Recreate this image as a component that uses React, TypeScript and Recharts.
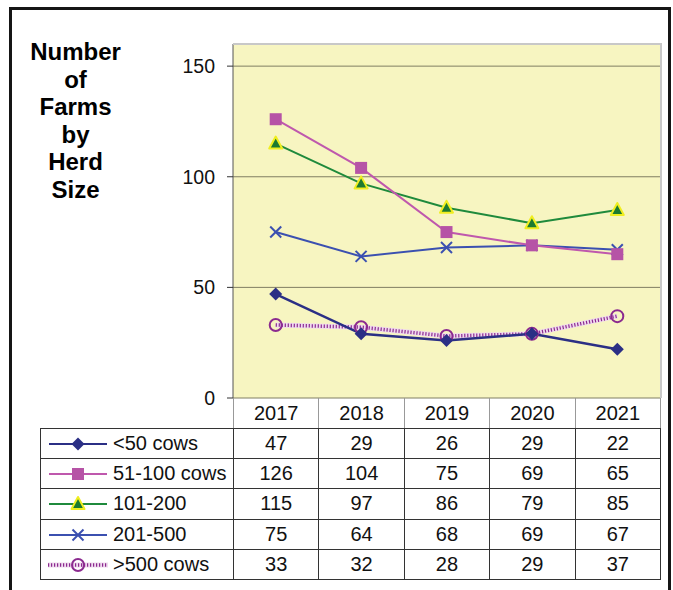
import React from 'react'
import { LineChart, Line, XAxis, YAxis, CartesianGrid } from 'recharts'

const years = ['2017', '2018', '2019', '2020', '2021']
const seriesNames = ['<50 cows', '51-100 cows', '101-200', '201-500', '>500 cows']
const under50 = [47, 29, 26, 29, 22]
const from51to100 = [126, 104, 75, 69, 65]
const from101to200 = [115, 97, 86, 79, 85]
const from201to500 = [75, 64, 68, 69, 67]
const over500 = [33, 32, 28, 29, 37]
const yTicks = [0, 50, 100, 150]
const titleLines = ['Number', 'of', 'Farms', 'by', 'Herd', 'Size']

const seriesValues = [under50, from51to100, from101to200, from201to500, over500]
const data = years.map((year, i) => ({
  year,
  s0: under50[i],
  s1: from51to100[i],
  s2: from101to200[i],
  s3: from201to500[i],
  s4: over500[i],
}))

const FONT = '"Liberation Sans", Arial, Helvetica, sans-serif'
const PLOT_LEFT = 233
const PLOT_RIGHT = 660
const PLOT_TOP = 44
const PLOT_BOTTOM = 398
const CHART_H = 420
const COL_W = (PLOT_RIGHT - PLOT_LEFT) / years.length
const ROW_H = 30.2
const TABLE_LEFT = 40

const NAVY = '#2b2f85'
const PINK = '#bf58ad'
const GREEN = '#1f8a3c'
const BLUE = '#3b50b0'
const PURPLE = '#8b2a8f'

type MarkProps = { cx?: number; cy?: number }

function Diamond({ cx = 0, cy = 0 }: MarkProps) {
  return <path d={`M${cx} ${cy - 6.5}L${cx + 6.5} ${cy}L${cx} ${cy + 6.5}L${cx - 6.5} ${cy}Z`} fill={NAVY} />
}
function Square({ cx = 0, cy = 0 }: MarkProps) {
  return <rect x={cx - 6} y={cy - 6} width={12} height={12} fill="#b653a6" />
}
function Triangle({ cx = 0, cy = 0 }: MarkProps) {
  return (
    <path
      d={`M${cx} ${cy - 7}L${cx + 6.5} ${cy + 5}L${cx - 6.5} ${cy + 5}Z`}
      fill="#1c7a30"
      stroke="#f0ee20"
      strokeWidth={2}
      strokeLinejoin="round"
    />
  )
}
function Cross({ cx = 0, cy = 0 }: MarkProps) {
  return (
    <g stroke={BLUE} strokeWidth={2}>
      <line x1={cx - 5.5} y1={cy - 5.5} x2={cx + 5.5} y2={cy + 5.5} />
      <line x1={cx - 5.5} y1={cy + 5.5} x2={cx + 5.5} y2={cy - 5.5} />
    </g>
  )
}
function Ring({ cx = 0, cy = 0 }: MarkProps) {
  return <circle cx={cx} cy={cy} r={6} fill="none" stroke={PURPLE} strokeWidth={2} />
}

const markers = [Diamond, Square, Triangle, Cross, Ring]
const lineColors = [NAVY, PINK, GREEN, BLUE, PURPLE]

function dotOf(Mark: (p: MarkProps) => React.ReactElement) {
  return (p: any) => <Mark key={`m-${p.index}`} cx={p.cx} cy={p.cy} />
}

function LegendIcon({ index }: { index: number }) {
  const Mark = markers[index]
  const dotted = index === 4
  return (
    <svg width={64} height={20} style={{ position: 'absolute', left: 5, top: 5 }}>
      {dotted ? (
        <>
          <line x1={2} y1={10} x2={62} y2={10} stroke="#efd9ee" strokeWidth={5} />
          <line x1={2} y1={10} x2={62} y2={10} stroke={PURPLE} strokeWidth={3.5} strokeDasharray="1.2 1.8" />
        </>
      ) : (
        <line x1={3} y1={10} x2={61} y2={10} stroke={lineColors[index]} strokeWidth={2} />
      )}
      <Mark cx={32} cy={10} />
    </svg>
  )
}

const cellText: React.CSSProperties = {
  position: 'absolute',
  boxSizing: 'border-box',
  display: 'flex',
  alignItems: 'center',
  justifyContent: 'center',
  fontSize: 20,
  color: '#111',
}

export default function App() {
  return (
    <div
      style={{
        position: 'absolute',
        left: 0,
        top: 0,
        width: 673,
        height: 590,
        overflow: 'hidden',
        background: '#fff',
        fontFamily: FONT,
      }}
    >
      <div
        style={{
          position: 'absolute',
          left: 9,
          top: 7,
          width: 662,
          height: 620,
          border: '3px solid #151515',
          boxSizing: 'border-box',
        }}
      />

      <div
        style={{
          position: 'absolute',
          left: 25,
          top: 38,
          width: 101,
          textAlign: 'center',
          fontWeight: 'bold',
          fontSize: 24,
          lineHeight: '27.5px',
          color: '#000',
        }}
      >
        {titleLines.map((t) => (
          <div key={t}>{t}</div>
        ))}
      </div>

      <div style={{ position: 'absolute', left: 0, top: 0 }}>
        <LineChart
          width={673}
          height={CHART_H}
          data={data}
          margin={{ top: PLOT_TOP, right: 673 - PLOT_RIGHT, bottom: CHART_H - PLOT_BOTTOM, left: 0 }}
        >
          <CartesianGrid fill="#f7f5c1" stroke="#807e62" strokeWidth={1} vertical={false} />
          <XAxis
            dataKey="year"
            hide
            padding={{ left: COL_W / 2, right: COL_W / 2 }}
          />
          <YAxis
            width={PLOT_LEFT}
            domain={[0, 160]}
            ticks={yTicks}
            interval={0}
            axisLine={{ stroke: '#555' }}
            tickLine={{ stroke: '#333' }}
            tickSize={6}
            tickMargin={12}
            tick={{ fill: '#111', fontSize: 19.5 }}
          />
          <Line dataKey="s4" stroke="#efd9ee" strokeWidth={5} dot={false} isAnimationActive={false} />
          <Line
            dataKey="s4"
            stroke={PURPLE}
            strokeWidth={3.5}
            strokeDasharray="1.2 1.8"
            dot={dotOf(Ring)}
            isAnimationActive={false}
          />
          <Line dataKey="s0" stroke={NAVY} strokeWidth={2.5} dot={dotOf(Diamond)} isAnimationActive={false} />
          <Line dataKey="s3" stroke={BLUE} strokeWidth={2} dot={dotOf(Cross)} isAnimationActive={false} />
          <Line dataKey="s2" stroke={GREEN} strokeWidth={2} dot={dotOf(Triangle)} isAnimationActive={false} />
          <Line dataKey="s1" stroke={PINK} strokeWidth={2} dot={dotOf(Square)} isAnimationActive={false} />
        </LineChart>
      </div>

      {/* plot area frame */}
      <div
        style={{
          position: 'absolute',
          left: PLOT_LEFT,
          top: PLOT_TOP - 1,
          width: PLOT_RIGHT - PLOT_LEFT + 2,
          height: PLOT_BOTTOM - PLOT_TOP + 1,
          borderTop: '2px solid #c8c8c8',
          borderRight: '2px solid #c8c8c8',
          boxSizing: 'border-box',
          pointerEvents: 'none',
        }}
      />

      {/* data table: header row */}
      {years.map((y, i) => (
        <div
          key={y}
          style={{
            ...cellText,
            left: PLOT_LEFT + i * COL_W,
            top: PLOT_BOTTOM,
            width: COL_W + 1,
            height: 31,
            borderLeft: '1px solid #999',
            borderRight: '1px solid #999',
          }}
        >
          {y}
        </div>
      ))}

      {/* data table: series rows */}
      {seriesNames.map((name, r) => (
        <React.Fragment key={name}>
          <div
            style={{
              ...cellText,
              justifyContent: 'flex-start',
              left: TABLE_LEFT,
              top: PLOT_BOTTOM + 30 + r * ROW_H,
              width: PLOT_LEFT - TABLE_LEFT + 1,
              height: ROW_H + 1,
              border: '1px solid #333',
            }}
          >
            <LegendIcon index={r} />
            <span style={{ position: 'absolute', left: 72 }}>{name}</span>
          </div>
          {seriesValues[r].map((v, c) => (
            <div
              key={`${name}-${c}`}
              style={{
                ...cellText,
                left: PLOT_LEFT + c * COL_W,
                top: PLOT_BOTTOM + 30 + r * ROW_H,
                width: COL_W + 1,
                height: ROW_H + 1,
                border: '1px solid #333',
              }}
            >
              {v}
            </div>
          ))}
        </React.Fragment>
      ))}
    </div>
  )
}
